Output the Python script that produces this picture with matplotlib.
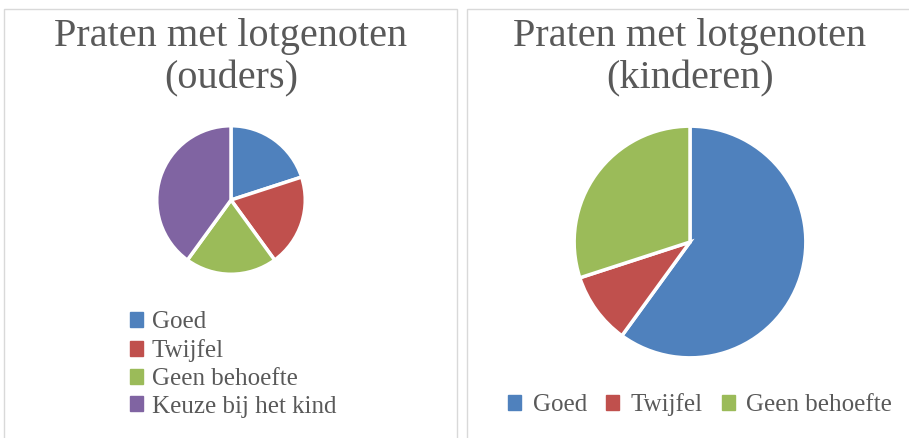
import matplotlib.pyplot as plt
from matplotlib.patches import Rectangle

# data
labels_ouders = ["Goed", "Twijfel", "Geen behoefte", "Keuze bij het kind"]
values_ouders = [20, 20, 20, 40]
labels_kinderen = ["Goed", "Twijfel", "Geen behoefte"]
values_kinderen = [60, 10, 30]
colors = ["#4F81BD", "#C0504D", "#9BBB59", "#8064A2"]

title_ouders = "Praten met lotgenoten\n(ouders)"
title_kinderen = "Praten met lotgenoten\n(kinderen)"

W, H = 909, 438
text_color = "#595959"
plt.rcParams['font.family'] = ['Liberation Serif', 'DejaVu Serif']

fig = plt.figure(figsize=(W / 100, H / 100), dpi=100)


def px_axes(cx, cy, r):
    # axes box in pixel coordinates, y measured from top
    return fig.add_axes([(cx - r) / W, (H - cy - r) / H, 2 * r / W, 2 * r / H])


# panel borders
fig.patches.append(Rectangle((4 / W, -0.01), 453 / W, (H - 9) / H + 0.01,
                             transform=fig.transFigure, fill=False,
                             edgecolor="#d9d9d9", linewidth=1))
fig.patches.append(Rectangle((467 / W, -0.01), 460 / W, (H - 9) / H + 0.01,
                             transform=fig.transFigure, fill=False,
                             edgecolor="#d9d9d9", linewidth=1))

# left pie
ax1 = px_axes(231, 200, 75)
w1, _ = ax1.pie(values_ouders, colors=colors, startangle=90, counterclock=False,
                wedgeprops=dict(edgecolor="white", linewidth=2.5))
ax1.set_xlim(-1.01, 1.01)
ax1.set_ylim(-1.01, 1.01)
ax1.set_aspect('auto')

# right pie
ax2 = px_axes(690, 242, 117)
w2, _ = ax2.pie(values_kinderen, colors=colors[:3], startangle=90, counterclock=False,
                wedgeprops=dict(edgecolor="white", linewidth=2.5))
ax2.set_xlim(-1.01, 1.01)
ax2.set_ylim(-1.01, 1.01)
ax2.set_aspect('auto')

# titles
fig.text(231 / W, 1 - 58 / H, title_ouders, ha='center', va='center',
         fontsize=29, color=text_color, linespacing=1.2)
fig.text(690 / W, 1 - 58 / H, title_kinderen, ha='center', va='center',
         fontsize=29, color=text_color, linespacing=1.2)

# legend handles without the white wedge edge
h1 = [plt.Rectangle((0, 0), 1, 1, color=c) for c in colors]
h2 = h1[:3]

fig.legend(h1, labels_ouders, loc='upper left', bbox_to_anchor=(117 / W, 1 - 299 / H),
           frameon=False, fontsize=18, handlelength=0.55, handleheight=0.55,
           handletextpad=0.35, labelspacing=0.23, borderpad=0, labelcolor=text_color)
fig.legend(h2, labels_kinderen, loc='center', bbox_to_anchor=(700 / W, 1 - 405 / H),
           frameon=False, fontsize=18, ncol=3, handlelength=0.55, handleheight=0.55,
           handletextpad=0.45, columnspacing=0.75, borderpad=0, labelcolor=text_color)

fig.savefig("out.png", dpi=100)
